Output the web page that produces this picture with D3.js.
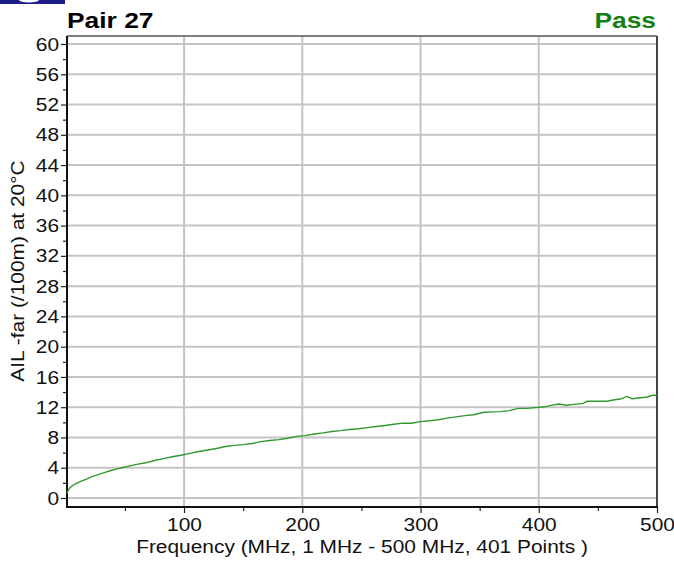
<!DOCTYPE html>
<html>
<head>
<meta charset="utf-8">
<script src="https://cdn.jsdelivr.net/npm/d3@7"></script>
<style>
  body { margin: 0; background: #fff; }
  svg { display: block; font-family: "Liberation Sans", Arial, sans-serif; }
</style>
</head>
<body>
<svg id="chart" width="674" height="562"></svg>
<script>
// frequency (MHz) samples
var freqs = [1, 2, 3.5, 5, 7.5, 10, 12.5, 17.5, 22.5, 27.5, 32.5, 37.5, 42.5, 47.5, 52.5, 60, 67.5, 75, 82.5, 90,
  97.5, 105, 112.5, 120, 127.5, 135, 142.5, 150, 157.5, 165, 172.5, 180, 187.5, 195, 202.5, 210, 217.5, 225, 232.5, 240,
  247.5, 255, 262.5, 270, 277.5, 285, 292.5, 300, 307.5, 315, 322.5, 330, 337.5, 345, 352.5, 360, 367.5, 375, 382.5, 390,
  397.5, 405, 412.5, 417, 423.5, 430, 437.5, 441, 450, 457.5, 463, 469, 474.5, 479, 486, 492, 496, 500];
// AIL -far (/100m) at 20°C
var ailValues = [0.6, 1.0, 1.35, 1.55, 1.8, 2.0, 2.2, 2.5, 2.85, 3.08, 3.35, 3.6, 3.82, 4.0, 4.18, 4.45, 4.65, 4.95, 5.2, 5.45,
  5.65, 5.9, 6.15, 6.35, 6.55, 6.8, 6.95, 7.05, 7.2, 7.45, 7.6, 7.72, 7.9, 8.15, 8.25, 8.45, 8.6, 8.78, 8.9, 9.05,
  9.15, 9.3, 9.45, 9.58, 9.75, 9.9, 9.88, 10.1, 10.2, 10.35, 10.55, 10.72, 10.88, 11.0, 11.3, 11.38, 11.42, 11.55, 11.85, 11.85,
  11.95, 12.05, 12.3, 12.42, 12.25, 12.38, 12.5, 12.78, 12.78, 12.78, 12.95, 13.08, 13.42, 13.12, 13.25, 13.35, 13.57, 13.57];

var yTicks = d3.range(0, 61, 4);
var xTicks = [100, 200, 300, 400, 500];
var yMinor = d3.range(2, 61, 4);
var xMinor = [50, 150, 250, 350, 450];

var svg = d3.select('#chart');
var mLeft = 67, mRight = 657, mTop = 36, mBottom = 507;
var stretch = 1.1; // the source glyphs are a bit wider than Arial

var x = d3.scaleLinear().domain([1, 500]).range([mLeft, mRight]);
var y = d3.scaleLinear().domain([0, 60]).range([498, 44]);

// logo fragment at the top-left corner
svg.append('rect').attr('x', 0).attr('y', 0).attr('width', 65).attr('height', 4).attr('fill', '#1c1c8a');
svg.append('ellipse').attr('cx', 29).attr('cy', 0).attr('rx', 10).attr('ry', 2.5).attr('fill', '#fff');

// grid
svg.append('g').selectAll('line').data(yTicks).enter().append('line')
  .attr('x1', mLeft).attr('x2', mRight)
  .attr('y1', d => y(d)).attr('y2', d => y(d))
  .attr('stroke', '#c4c4c4').attr('stroke-width', 2);
svg.append('g').selectAll('line').data(xTicks.slice(0, -1)).enter().append('line')
  .attr('x1', d => x(d)).attr('x2', d => x(d))
  .attr('y1', mTop).attr('y2', mBottom)
  .attr('stroke', '#c4c4c4').attr('stroke-width', 2);

// frame: top / right grey
svg.append('line').attr('x1', mLeft).attr('x2', mRight).attr('y1', mTop).attr('y2', mTop)
  .attr('stroke', '#555').attr('stroke-width', 1.5);
svg.append('line').attr('x1', mRight).attr('x2', mRight).attr('y1', mTop).attr('y2', mBottom)
  .attr('stroke', '#444').attr('stroke-width', 2);

// y axis
var yAxis = svg.append('g').attr('transform', `translate(${mLeft},0)`)
  .call(d3.axisLeft(y).tickValues(yTicks).tickSize(6).tickPadding(2).tickSizeOuter(0));
svg.append('g').attr('transform', `translate(${mLeft},0)`)
  .call(d3.axisLeft(y).tickValues(yMinor).tickSize(4).tickFormat('').tickSizeOuter(0))
  .select('.domain').remove();

// x axis
var xAxis = svg.append('g').attr('transform', `translate(0,${mBottom})`)
  .call(d3.axisBottom(x).tickValues(xTicks).tickSize(6).tickPadding(5).tickSizeOuter(0));
svg.append('g').attr('transform', `translate(0,${mBottom})`)
  .call(d3.axisBottom(x).tickValues(xMinor).tickSize(4).tickFormat('').tickSizeOuter(0))
  .select('.domain').remove();

svg.selectAll('.tick line').attr('stroke', '#222').attr('stroke-width', 1.2);
svg.selectAll('.tick text')
  .attr('font-size', 19).attr('fill', '#111')
  .attr('font-family', '"Liberation Sans", Arial, sans-serif')
  .attr('x', function() { return (+d3.select(this).attr('x') || 0) / stretch; })
  .attr('transform', `scale(${stretch},1)`);

// axis lines
svg.append('line').attr('x1', mLeft).attr('x2', mLeft).attr('y1', mTop).attr('y2', mBottom + 1)
  .attr('stroke', '#111').attr('stroke-width', 2);
svg.append('line').attr('x1', mLeft - 1).attr('x2', mRight + 1).attr('y1', mBottom).attr('y2', mBottom)
  .attr('stroke', '#111').attr('stroke-width', 2);
yAxis.select('.domain').remove();
xAxis.select('.domain').remove();

// trace
var line = d3.line().x((d, i) => x(freqs[i])).y(d => y(d));
svg.append('path').datum(ailValues)
  .attr('d', line)
  .attr('fill', 'none')
  .attr('stroke', '#2e9a2e')
  .attr('stroke-width', 1.4);

// titles
function label(tx, ty, sx, rot) {
  return svg.append('text')
    .attr('transform', `translate(${tx},${ty})` + (rot ? ` rotate(${rot})` : '') + ` scale(${sx},1)`);
}
label(67, 28, 1.2).attr('font-size', 22).attr('font-weight', 'bold').attr('fill', '#000')
  .text('Pair 27');
label(656, 28, 1.2).attr('text-anchor', 'end')
  .attr('font-size', 22).attr('font-weight', 'bold').attr('fill', '#128012')
  .text('Pass');

label((mLeft + mRight) / 2, 553, stretch).attr('text-anchor', 'middle')
  .attr('font-size', 19).attr('fill', '#111')
  .text('Frequency (MHz, 1 MHz - 500 MHz, 401 Points )');
label(24, 271, stretch, -90).attr('text-anchor', 'middle')
  .attr('font-size', 19).attr('fill', '#111')
  .text('AIL -far (/100m) at 20°C');
</script>
</body>
</html>
